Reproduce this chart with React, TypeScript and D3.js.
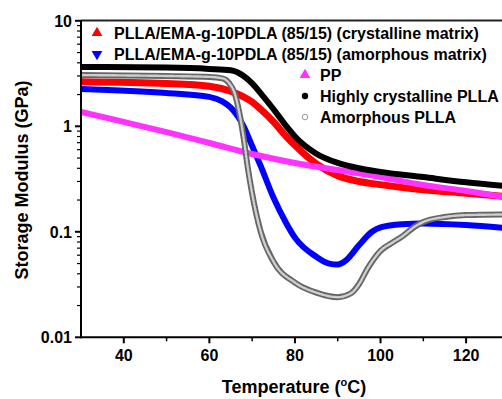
import React from "react";
import * as d3 from "d3";

// Storage modulus (GPa) vs temperature (°C)
const crystT = [30, 50, 60, 65, 68, 70, 72, 75, 78, 80, 85, 90, 95, 100, 110, 120, 130];
const crystV = [3.65, 3.6, 3.5, 3.4, 3.0, 2.55, 2.05, 1.45, 1.0, 0.8, 0.55, 0.45, 0.4, 0.37, 0.33, 0.295, 0.27];

const crystMatT = [30, 50, 60, 65, 68, 70, 72, 75, 78, 80, 85, 90, 95, 100, 110, 120, 130];
const crystMatV = [2.65, 2.55, 2.4, 2.15, 1.9, 1.7, 1.45, 1.1, 0.8, 0.66, 0.44, 0.34, 0.3, 0.28, 0.25, 0.232, 0.215];

const amorMatT = [30, 50, 60, 63, 65, 68, 70, 72, 75, 78, 80, 85, 88, 90, 92, 95, 98, 100, 105, 110, 120, 130];
const amorMatV = [2.26, 2.07, 1.9, 1.72, 1.5, 1.0, 0.65, 0.42, 0.21, 0.12, 0.088, 0.058, 0.05, 0.049, 0.054, 0.075, 0.1, 0.11, 0.118, 0.12, 0.116, 0.108];

const ppT = [30, 40, 50, 60, 70, 80, 90, 100, 110, 120, 130];
const ppV = [1.37, 1.1, 0.88, 0.695, 0.546, 0.449, 0.385, 0.331, 0.278, 0.244, 0.21];

const amorT = [30, 50, 60, 63, 64.5, 66, 67, 68, 69, 70, 72, 75, 80, 85, 90, 93, 95, 97, 100, 103, 105, 108, 110, 115, 120, 130];
const amorV = [3.06, 3.0, 2.94, 2.85, 2.6, 2.0, 1.35, 0.78, 0.4, 0.23, 0.1, 0.052, 0.033, 0.0265, 0.024, 0.026, 0.032, 0.045, 0.066, 0.08, 0.09, 0.112, 0.124, 0.138, 0.144, 0.146];

const xTicks = [40, 60, 80, 100, 120];
const xMinor = [50, 70, 90, 110, 130];
const yTicks = [0.01, 0.1, 1, 10];
const yTickLabels = ["0.01", "0.1", "1", "10"];

const legendTop = [
  { label: "PLLA/EMA-g-10PDLA (85/15) (crystalline matrix)", color: "#ff0000", shape: "up" },
  { label: "PLLA/EMA-g-10PDLA (85/15) (amorphous matrix)", color: "#0000ff", shape: "down" },
];
const legendBottom = [
  { label: "PP", color: "#ff33ff", shape: "up" },
  { label: "Highly crystalline PLLA", color: "#000000", shape: "dot" },
  { label: "Amorphous PLLA", color: "#888888", shape: "ring" },
];

const W = 502;
const H = 399;
const font = "'Liberation Sans', Arial, sans-serif";

export default function App() {
  const x = d3.scaleLinear().domain([30, 140]).range([81, 81 + 110 * 4.279]);
  const y = d3.scaleLog().domain([0.01, 10]).range([337.3, 20.8]);
  const left = x(30);
  const bottom = y(0.01);

  const line = d3
    .line<[number, number]>()
    .x((d) => x(d[0]))
    .y((d) => y(d[1]))
    .curve(d3.curveMonotoneX);
  const pts = (t: number[], v: number[]) => t.map((d, i) => [d, v[i]] as [number, number]);

  const yMinor: number[] = [];
  [0.01, 0.1, 1].forEach((dec) => {
    for (let k = 2; k <= 9; k++) yMinor.push(dec * k);
  });

  const tri = d3.symbol(d3.symbolTriangle, 50)() as string;

  const marker = (shape: string, color: string) => {
    if (shape === "up") return <path d={tri} fill={color} />;
    if (shape === "down") return <path d={tri} fill={color} transform="rotate(180)" />;
    if (shape === "dot") return <circle r={3.2} fill={color} />;
    return <circle r={2.8} fill="#fff" stroke="#999" strokeWidth={1} />;
  };

  return (
    <svg
      width={W}
      height={H}
      style={{ position: "absolute", left: 0, top: 0, background: "#fff" }}
      fontFamily={font}
      fontWeight="bold"
    >
      <defs>
        <clipPath id="plot">
          <rect x={left} y={20} width={W - left} height={bottom - 20} />
        </clipPath>
      </defs>

      {/* curves */}
      <g clipPath="url(#plot)" fill="none" strokeLinecap="round" strokeLinejoin="round">
        <path d={line(pts(crystMatT, crystMatV)) || ""} stroke="#ff0000" strokeWidth={7} />
        <path d={line(pts(amorMatT, amorMatV)) || ""} stroke="#0000ff" strokeWidth={6} />
        <path d={line(pts(ppT, ppV)) || ""} stroke="#ff33ff" strokeWidth={6} />
        <path d={line(pts(crystT, crystV)) || ""} stroke="#000000" strokeWidth={6} />
        <path d={line(pts(amorT, amorV)) || ""} stroke="#666666" strokeWidth={6} />
        <path
          d={line(pts(amorT, amorV)) || ""}
          stroke="#cfcfcf"
          strokeWidth={2.4}
          strokeDasharray="2 1.4"
        />
      </g>

      {/* frame */}
      <line x1={left} x2={W} y1={20.5} y2={20.5} stroke="#222" strokeWidth={2} />
      <line x1={left} x2={W} y1={bottom} y2={bottom} stroke="#000" strokeWidth={2} />
      <line x1={left} x2={left} y1={20} y2={bottom + 1} stroke="#000" strokeWidth={2} />

      {/* x ticks */}
      {xTicks.map((t) => (
        <g key={t} transform={`translate(${x(t)},0)`}>
          <line y1={bottom} y2={bottom + 6} stroke="#000" strokeWidth={2} />
          <text y={361} textAnchor="middle" fontSize={16}>
            {t}
          </text>
        </g>
      ))}
      {xMinor.map((t) => (
        <line key={t} x1={x(t)} x2={x(t)} y1={bottom} y2={bottom + 4} stroke="#000" strokeWidth={1.5} />
      ))}

      {/* y ticks */}
      {yTicks.map((t, i) => (
        <g key={t} transform={`translate(0,${y(t)})`}>
          <line x1={left - 6} x2={left} stroke="#000" strokeWidth={2} />
          <text x={72} dy="0.36em" textAnchor="end" fontSize={16}>
            {yTickLabels[i]}
          </text>
        </g>
      ))}
      {yMinor.map((t) => (
        <line key={t} x1={left - 4} x2={left} y1={y(t)} y2={y(t)} stroke="#000" strokeWidth={1.2} />
      ))}

      {/* axis titles */}
      <text x={294} y={393} textAnchor="middle" fontSize={18}>
        Temperature (<tspan fontSize={11} dy={-7}>o</tspan>
        <tspan dy={7}>C)</tspan>
      </text>
      <text transform="translate(28,180) rotate(-90)" textAnchor="middle" fontSize={18}>
        Storage Modulus (GPa)
      </text>

      {/* legend */}
      {legendTop.map((d, i) => (
        <g key={d.label} transform={`translate(0,${39 + i * 21})`}>
          <g transform="translate(97,-6)">{marker(d.shape, d.color)}</g>
          <text x={114} fontSize={16}>
            {d.label}
          </text>
        </g>
      ))}
      {legendBottom.map((d, i) => (
        <g key={d.label} transform={`translate(0,${81 + i * 21})`}>
          <g transform="translate(305,-6)">{marker(d.shape, d.color)}</g>
          <text x={320} fontSize={16}>
            {d.label}
          </text>
        </g>
      ))}
    </svg>
  );
}
